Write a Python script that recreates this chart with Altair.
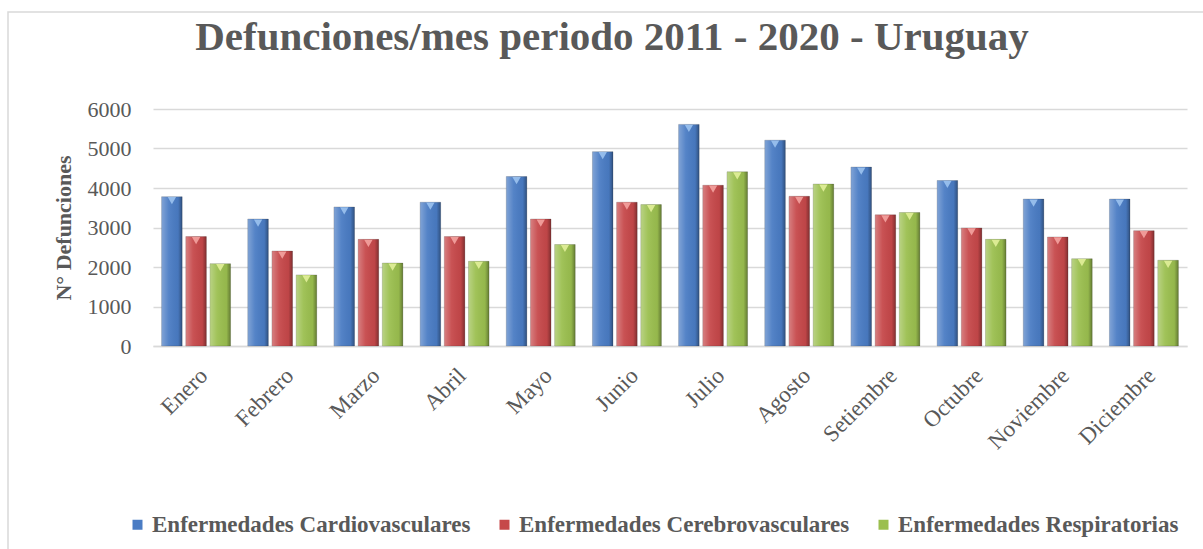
import altair as alt
import pandas as pd

meses = ["Enero", "Febrero", "Marzo", "Abril", "Mayo", "Junio", "Julio",
         "Agosto", "Setiembre", "Octubre", "Noviembre", "Diciembre"]
series = ["Enfermedades Cardiovasculares", "Enfermedades Cerebrovasculares",
          "Enfermedades Respiratorias"]
cardio = [3780, 3215, 3520, 3640, 4290, 4920, 5610, 5210, 4530, 4190, 3720, 3720]
cerebro = [2770, 2405, 2700, 2770, 3215, 3640, 4070, 3790, 3320, 2990, 2760, 2920]
resp = [2085, 1800, 2100, 2145, 2570, 3580, 4410, 4100, 3380, 2700, 2210, 2170]

colores = ["#4a7cc4", "#c6484a", "#9bbf4f"]
claros = ["#9cc3f0", "#f4a3a0", "#e2f09a"]

rows = []
for serie, vals in zip(series, [cardio, cerebro, resp]):
    for m, v in zip(meses, vals):
        rows.append({"mes": m, "serie": serie, "valor": v})
df = pd.DataFrame(rows)

FONT = "Liberation Serif"
GRAY = "#595959"

x_enc = alt.X("mes:N", sort=meses, title=None,
              scale=alt.Scale(paddingInner=0.2, paddingOuter=0.1),
              axis=alt.Axis(labelAngle=-45, labelAlign="right", labelBaseline="top",
                            labelFont=FONT, labelFontSize=23, labelColor=GRAY,
                            labelPadding=18, ticks=False, domainColor="#d9d9d9",
                            domainWidth=1.5, grid=False))
xo_enc = alt.XOffset("serie:N", sort=series,
                     scale=alt.Scale(domain=series, paddingInner=0.15))
y_enc = alt.Y("valor:Q", title="N° Defunciones",
              scale=alt.Scale(domain=[0, 6000]),
              axis=alt.Axis(values=[0, 1000, 2000, 3000, 4000, 5000, 6000], format="d",
                            labelFont=FONT, labelFontSize=22, labelColor=GRAY,
                            labelPadding=22, ticks=False, domain=False,
                            gridColor="#d9d9d9", gridWidth=1.5,
                            titleFont=FONT, titleFontSize=22, titleFontWeight="bold",
                            titleColor=GRAY, titlePadding=12))

base = alt.Chart(df)

bars = base.mark_bar(stroke="#2b2b2b", strokeOpacity=0.25, strokeWidth=0.8).encode(
    x=x_enc, xOffset=xo_enc, y=y_enc,
    color=alt.Color("serie:N", sort=series,
                    scale=alt.Scale(domain=series, range=colores),
                    legend=alt.Legend(title=None, orient="none", direction="horizontal",
                                      legendX=-27, legendY=404,
                                      labelFont=FONT, labelFontSize=23,
                                      labelFontWeight="bold", labelColor=GRAY,
                                      labelLimit=500, symbolType="square",
                                      symbolSize=100, symbolStrokeWidth=0,
                                      columnPadding=22, labelOffset=3))
)

grad = alt.LinearGradient(
    gradient="linear", x1=0, x2=1, y1=0, y2=0,
    stops=[alt.GradientStop(offset=0, color="rgba(255,255,255,0.30)"),
           alt.GradientStop(offset=0.35, color="rgba(255,255,255,0.06)"),
           alt.GradientStop(offset=0.8, color="rgba(0,0,0,0.04)"),
           alt.GradientStop(offset=1, color="rgba(0,0,0,0.35)")])

shade = base.mark_bar(color=grad).encode(x=x_enc, xOffset=xo_enc, y=y_enc)

tops = base.mark_point(shape="triangle-down", filled=True, size=70, opacity=0.9,
                       yOffset=4).encode(
    x=x_enc, xOffset=xo_enc, y=y_enc,
    color=alt.Color("serie:N", sort=series,
                    scale=alt.Scale(domain=series, range=claros), legend=None)
)

frame = alt.Chart(pd.DataFrame({"a": [0]})).mark_rect(
    fill=None, stroke="#d9d9d9", strokeWidth=1.5).encode(
    x=alt.value(-145), x2=alt.value(1060), y=alt.value(-97), y2=alt.value(460))

chart = alt.layer(frame, bars, shade, tops).resolve_scale(color="independent").properties(
    width=1034, height=237,
    title=alt.Title("Defunciones/mes periodo 2011 - 2020 - Uruguay",
                    font=FONT, fontSize=41, fontWeight="bold", color=GRAY,
                    anchor="middle", frame="group", baseline="alphabetic",
                    dx=-58, offset=-80),
    autosize=alt.AutoSizeParams(type="none"),
    padding={"left": 153, "top": 109, "right": 16, "bottom": 203},
    background="white"
).configure_view(stroke=None)

chart.save("out.html", embed_options={"renderer": "svg", "actions": False})
